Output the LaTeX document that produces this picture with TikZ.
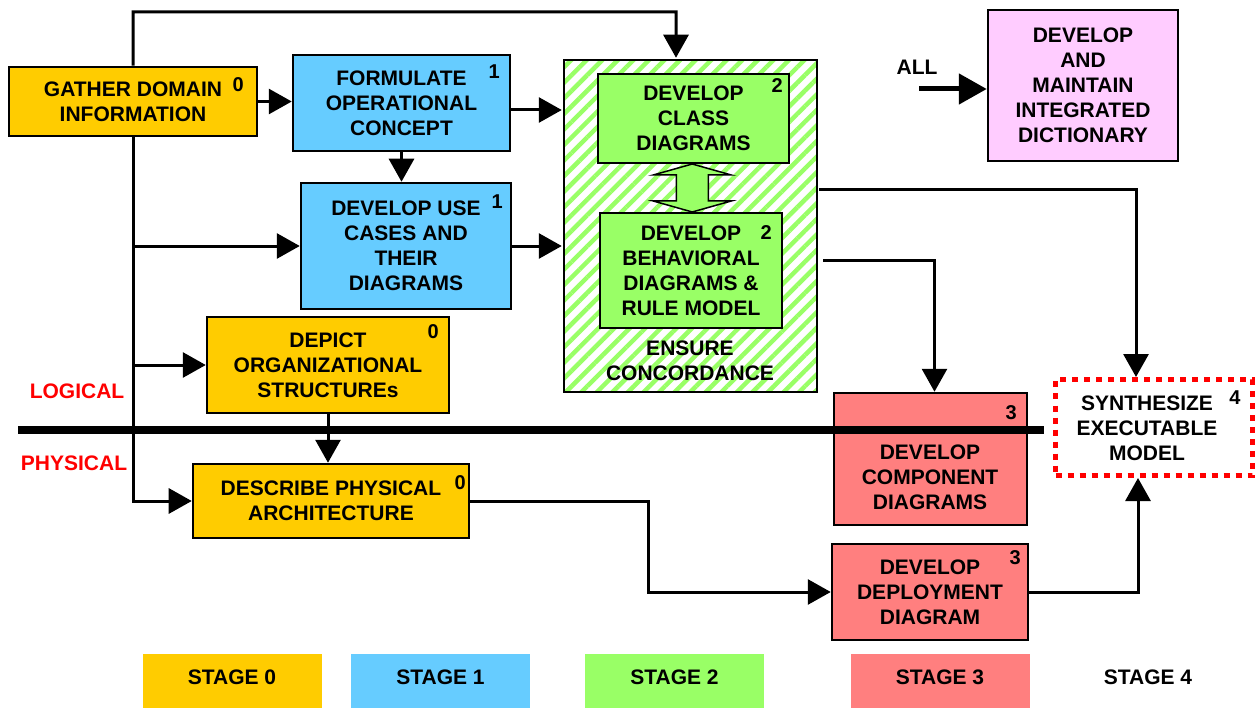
\documentclass[tikz,border=0pt]{standalone}
\usepackage{fontspec}
\setmainfont{Liberation Sans}
\usetikzlibrary{positioning,arrows.meta,calc,patterns.meta}
\definecolor{stagezero}{HTML}{FFCC00}
\definecolor{stageone}{HTML}{66CCFF}
\definecolor{stagetwo}{HTML}{99FF66}
\definecolor{stagethree}{HTML}{FF7F7F}
\definecolor{dictpink}{HTML}{FFCCFF}
\definecolor{layerred}{HTML}{FF0000}

\begin{document}
\begin{tikzpicture}[
  x=1bp, y=-1bp,
  every node/.style={font=\bfseries\fontsize{21bp}{25bp}\selectfont, align=center, inner sep=0pt},
  box/.style={draw=black, line width=2.5bp},
  szero/.style={box, fill=stagezero},
  sone/.style={box, fill=stageone},
  stwo/.style={box, fill=stagetwo},
  sthree/.style={box, fill=stagethree},
  dictbox/.style={box, fill=dictpink},
  concord/.style={draw=black, line width=2bp,
    pattern={Lines[angle=45,distance=11bp,line width=4.5bp]}, pattern color=stagetwo},
  synthbox/.style={draw=layerred, line width=5bp, dash pattern=on 6bp off 6bp},
  num/.style={font=\bfseries\fontsize{20bp}{20bp}\selectfont},
  layer/.style={text=layerred},
  legend/.style={minimum width=179bp, minimum height=54bp, text depth=8bp},
  flow/.style={line width=3bp, -{Triangle[length=23bp,width=25bp]}},
  bigflow/.style={line width=5bp, -{Triangle[length=28bp,width=30bp]}},
  dblarrow/.style={draw=black, line width=1.5bp, fill=stagetwo},
]
  \useasboundingbox (0,0) rectangle (1257,709);

  % Stage 0 and 1, left column
  \node[szero, minimum width=248bp, minimum height=69bp] (gather)   at (133,101.5) {GATHER DOMAIN\\INFORMATION};
  \node[sone,  minimum width=217bp, minimum height=96bp] (formulate) at (401.5,103) {FORMULATE\\OPERATIONAL\\CONCEPT};
  \node[sone,  minimum width=210bp, minimum height=126bp] (usecase)  at (406,246) {DEVELOP USE\\CASES AND\\THEIR\\DIAGRAMS};
  \node[szero, minimum width=242bp, minimum height=96bp] (depict)   at (328,365) {DEPICT\\ORGANIZATIONAL\\STRUCTUREs};
  \node[szero, minimum width=276bp, minimum height=74bp] (describe) at (331,501) {DESCRIBE PHYSICAL\\ARCHITECTURE};

  % Stage 2, concordance block
  \node[concord, minimum width=253bp, minimum height=332bp] (ensure) at (690.5,226) {};
  \node[stwo, minimum width=191bp, minimum height=89bp]  (class) at (693.5,118.5) {DEVELOP\\CLASS\\DIAGRAMS};
  \node[stwo, minimum width=182bp, minimum height=115bp] (behav) at (691,270.5) {DEVELOP\\BEHAVIORAL\\DIAGRAMS \&\\RULE MODEL};
  \node (ensuretext) at (690,361) {ENSURE\\CONCORDANCE};

  % Stage 3 and 4, right column
  \node[sthree, minimum width=193bp, minimum height=132bp] (comp) at (930.5,459) {};
  \node (comptext) at (930,477) {DEVELOP\\COMPONENT\\DIAGRAMS};
  \node[sthree, minimum width=196bp, minimum height=96bp] (deploy) at (930,592) {DEVELOP\\DEPLOYMENT\\DIAGRAM};
  \node[synthbox, minimum width=197bp, minimum height=96bp] (synth) at (1154,427.5) {};
  \node (synthtext) at (1147,428) {SYNTHESIZE\\EXECUTABLE\\MODEL};
  \node[dictbox, minimum width=190bp, minimum height=151bp] (dict) at (1083,85.5) {DEVELOP\\AND\\MAINTAIN\\INTEGRATED\\DICTIONARY};
  \node (alllbl) at (917,67) {ALL};
  \coordinate (allstart) at (919,89);

  % stage numbers
  \node[num] (gathernum)   at ($(gather.north east)+(-20,19)$)    {0};
  \node[num] (formnum)     at ($(formulate.north east)+(-17,18)$) {1};
  \node[num] (usecasenum)  at ($(usecase.north east)+(-15,20)$)   {1};
  \node[num] (classnum)    at ($(class.north east)+(-13,13)$)     {2};
  \node[num] (behavnum)    at ($(behav.north east)+(-17,21)$)     {2};
  \node[num] (depictnum)   at ($(depict.north east)+(-17,16)$)    {0};
  \node[num] (describenum) at ($(describe.north east)+(-10,20)$)  {0};
  \node[num] (compnum)     at ($(comp.north east)+(-17,21)$)      {3};
  \node[num] (deploynum)   at ($(deploy.north east)+(-14,15)$)    {3};
  \node[num] (synthnum)    at ($(synth.north east)+(-20,21)$)     {4};

  % connectors
  \coordinate (toprun) at (676,12);
  \coordinate (formout) at ([yshift=-7bp]formulate.east);
  \coordinate (ensuretop) at ([yshift=36bp]ensure.east);
  \coordinate (ensuremid) at ([xshift=4bp,yshift=-34bp]ensure.east);
  \draw[flow] (gather.north) |- (toprun) -- ([xshift=-14.5bp]ensure.north);
  \draw[flow] (gather) -- (formulate.west |- gather);
  \draw[flow] (gather.south) |- (describe.west);
  \draw[flow] (gather.south |- usecase.west) -- (usecase.west);
  \draw[flow] (gather.south |- depict.west) -- (depict.west);
  \draw[flow] (formulate.south) -- (formulate.south |- usecase.north);
  \draw[flow] (formout) -- (ensure.west |- formout);
  \draw[flow] (usecase.east) -- (ensure.west |- usecase.east);
  \draw[flow] (depict.south) -- (depict.south |- describe.north);
  \draw[flow] (describe.east) -- ++(178,0) |- (deploy.west);
  \draw[flow] (ensuretop) -| ([xshift=-18bp]synth.north);
  \draw[flow] (ensuremid) -| ([xshift=4bp]comp.north);
  \draw[flow] (deploy.east) -| ([xshift=-16bp]synth.south);
  \draw[bigflow] (allstart) -- (dict.west |- allstart);

  % class <-> behavioral concordance arrow
  \coordinate (dblmid) at ($(class.south)!0.5!(behav.north)$);
  \draw[dblarrow] ($(dblmid)+(0,-24)$) -- ++(39,11) -- ++(-23,0) -- ++(0,26) -- ++(23,0)
    -- ++(-39,11) -- ++(-39,-11) -- ++(23,0) -- ++(0,-26) -- ++(-23,0) -- cycle;

  % logical / physical split
  \coordinate (sepleft) at (18,430);
  \coordinate (sepright) at (1044,430);
  \draw[line width=8bp] (sepleft) -- (sepright);
  \node[layer] (logical)  at (77,391) {LOGICAL};
  \node[layer] (physical) at (74,463) {PHYSICAL};

  % legend
  \node[legend, fill=stagezero]  (leg0) at (232,681)   {STAGE 0};
  \node[legend, fill=stageone]   (leg1) at (440.5,681) {STAGE 1};
  \node[legend, fill=stagetwo]   (leg2) at (674.5,681) {STAGE 2};
  \node[legend, fill=stagethree] (leg3) at (940,681)   {STAGE 3};
  \node[legend]                  (leg4) at (1148,681)  {STAGE 4};
\end{tikzpicture}
\end{document}
